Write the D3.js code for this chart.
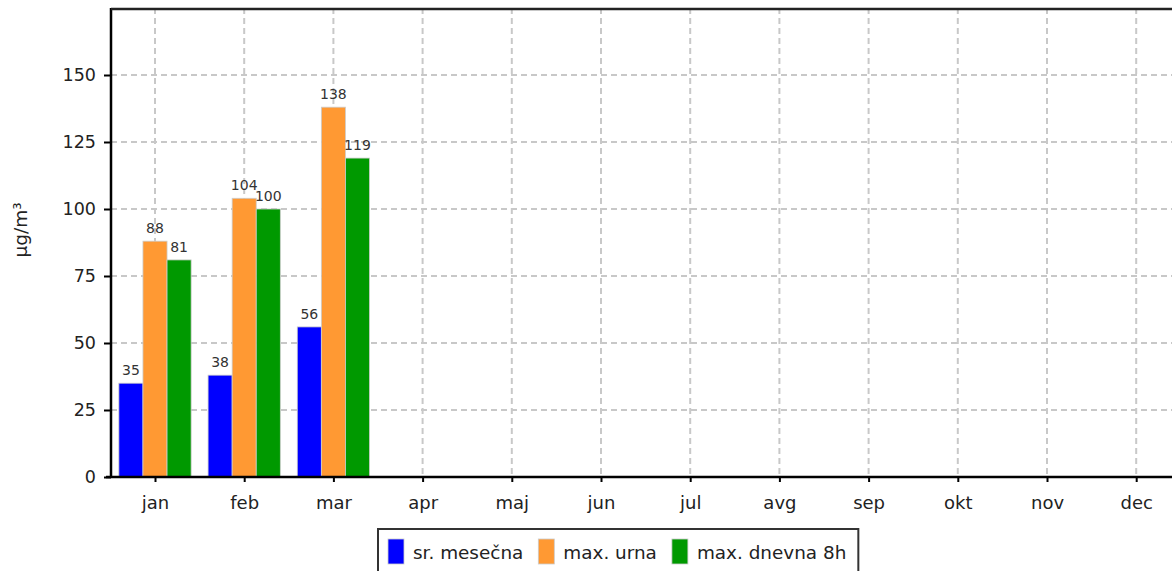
<!DOCTYPE html>
<html>
<head>
<meta charset="utf-8">
<script src="https://cdn.jsdelivr.net/npm/d3@7"></script>
<style>
  html, body { margin: 0; padding: 0; background: #fff; overflow: hidden; }
  svg { display: block; font-family: "DejaVu Sans", Verdana, sans-serif; }
</style>
</head>
<body>
<svg id="chart" width="1172" height="571"></svg>
<script>
const months = ["jan","feb","mar","apr","maj","jun","jul","avg","sep","okt","nov","dec"];
const seriesNames = ["sr. mesečna","max. urna","max. dnevna 8h"];
const seriesColors = ["#0000ff","#ff9933","#009900"];
const srMesecna = [35, 38, 56, null, null, null, null, null, null, null, null, null];
const maxUrna = [88, 104, 138, null, null, null, null, null, null, null, null, null];
const maxDnevna8h = [81, 100, 119, null, null, null, null, null, null, null, null, null];
const yTicks = [0, 25, 50, 75, 100, 125, 150];
const yLabel = "µg/m³";

(function () {
const seriesValues = [srMesecna, maxUrna, maxDnevna8h];

const svg = d3.select("#chart");
const pLeft = 111, pTop = 8, pBottom = 477;
const bandStart = 110.4, bandEnd = 1180.8;

const x = d3.scaleBand().domain(months).range([bandStart, bandEnd]).paddingInner(0.19).paddingOuter(0.095);
const xc = d3.scalePoint().domain(months).range([bandStart, bandEnd]).padding(0.5);
const xs = d3.scaleBand().domain(seriesNames).range([0, x.bandwidth()]).padding(0);
const y = d3.scaleLinear().domain([0, 175]).range([pBottom, pTop]);

// grid
const grid = svg.append("g");
grid.selectAll("line.h").data(yTicks.filter(d => d > 0)).join("line")
  .attr("x1", pLeft).attr("x2", 1172)
  .attr("y1", d => y(d)).attr("y2", d => y(d))
  .attr("stroke", "#c8c8c8").attr("stroke-width", 2).attr("stroke-dasharray", "6,4");
grid.selectAll("line.v").data(months).join("line")
  .attr("x1", d => xc(d)).attr("x2", d => xc(d))
  .attr("y1", pTop).attr("y2", pBottom)
  .attr("stroke", "#c8c8c8").attr("stroke-width", 2).attr("stroke-dasharray", "6,4");

// bars
const flat = [];
months.forEach((m, i) => seriesNames.forEach((s, j) => {
  const v = seriesValues[j][i];
  if (v != null) flat.push({m, s, v, c: seriesColors[j]});
}));
svg.append("g").selectAll("rect").data(flat).join("rect")
  .attr("x", d => x(d.m) + xs(d.s))
  .attr("y", d => y(d.v))
  .attr("width", xs.bandwidth())
  .attr("height", d => y(0) - y(d.v))
  .attr("fill", d => d.c)
  .attr("stroke", "#cccccc").attr("stroke-width", 0.8);

svg.append("g").selectAll("text").data(flat).join("text")
  .attr("x", d => x(d.m) + xs(d.s) + xs.bandwidth() / 2)
  .attr("y", d => y(d.v) - 8)
  .attr("text-anchor", "middle")
  .attr("font-size", 14)
  .attr("fill", "#333")
  .text(d => d.v);

// axes
const yAxis = svg.append("g").attr("transform", `translate(${pLeft},0)`)
  .call(d3.axisLeft(y).tickValues(yTicks).tickSize(7).tickPadding(8));
yAxis.select(".domain").remove();
yAxis.selectAll(".tick line").attr("stroke", "#000").attr("stroke-width", 2);
yAxis.selectAll(".tick text").attr("font-size", 17.5).attr("fill", "#222").attr("font-family", "DejaVu Sans");

const xAxis = svg.append("g").attr("transform", `translate(0,${pBottom})`)
  .call(d3.axisBottom(xc).tickSize(5).tickPadding(14));
xAxis.select(".domain").remove();
xAxis.selectAll(".tick line").attr("stroke", "#000").attr("stroke-width", 2);
xAxis.selectAll(".tick text").attr("font-size", 18).attr("fill", "#222").attr("font-family", "DejaVu Sans");

// frame lines
svg.append("line").attr("x1", pLeft).attr("x2", pLeft).attr("y1", pTop).attr("y2", pBottom + 1)
  .attr("stroke", "#000").attr("stroke-width", 2.5);
svg.append("line").attr("x1", pLeft - 5).attr("x2", 1172).attr("y1", pBottom).attr("y2", pBottom)
  .attr("stroke", "#000").attr("stroke-width", 2.5);
svg.append("line").attr("x1", pLeft).attr("x2", 1172).attr("y1", pTop + 1).attr("y2", pTop + 1)
  .attr("stroke", "#222").attr("stroke-width", 2.5);

// y label
svg.append("text")
  .attr("transform", `translate(27,230) rotate(-90)`)
  .attr("text-anchor", "middle")
  .attr("font-size", 18.5).attr("fill", "#222")
  .text(yLabel);

// legend
const lg = svg.append("g");
const box = lg.append("rect").attr("x", 378).attr("y", 529).attr("height", 60)
  .attr("fill", "#fff").attr("stroke", "#333").attr("stroke-width", 2);
let cx = 388;
seriesNames.forEach((s, i) => {
  lg.append("rect").attr("x", cx).attr("y", 539).attr("width", 16).attr("height", 25)
    .attr("fill", seriesColors[i]).attr("stroke", "#ccc").attr("stroke-width", 0.8);
  const t = lg.append("text").attr("x", cx + 25).attr("y", 559)
    .attr("font-size", 18.4).attr("fill", "#222").text(s);
  const w = t.node().getComputedTextLength();
  cx = cx + 25 + w + 15;
});
box.attr("width", cx - 378 - 3);
})();
</script>
</body>
</html>
